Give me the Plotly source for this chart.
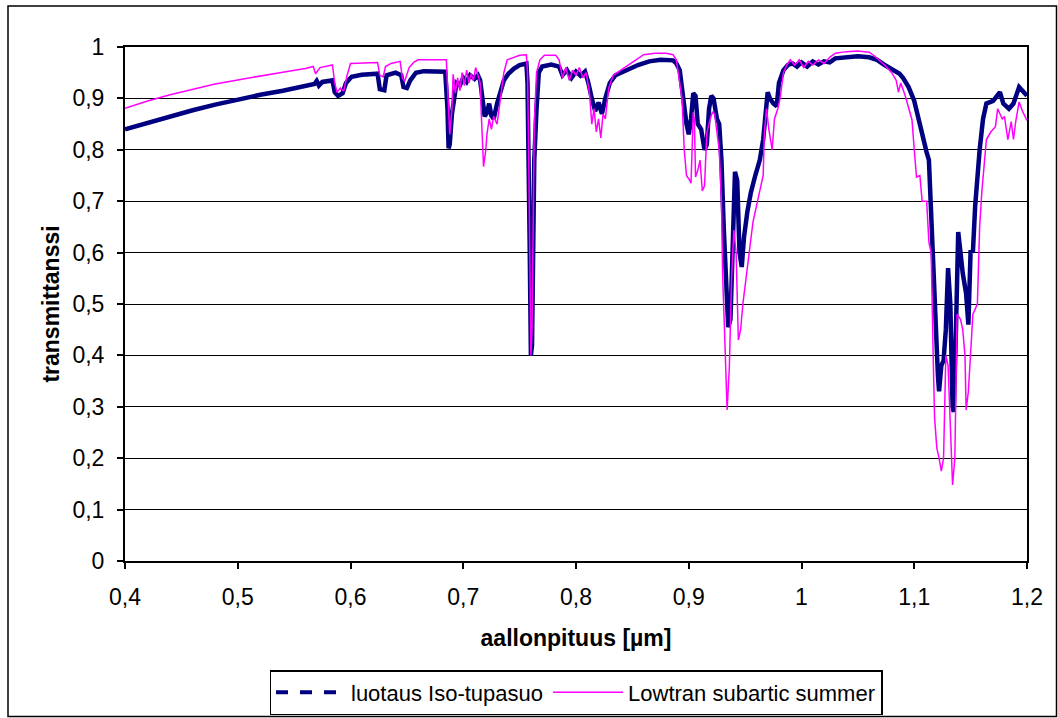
import plotly.graph_objects as go

# ---- data ----
luotaus_wl = [0.400,0.420,0.440,0.460,0.480,0.500,0.520,0.540,0.560,0.568,0.570,0.572,0.575,0.584,0.586,0.589,0.593,0.596,0.601,0.610,0.624,0.626,0.630,0.632,0.640,0.645,0.647,0.650,0.653,0.658,0.665,0.684,0.686,0.687,0.688,0.690,0.692,0.694,0.697,0.700,0.703,0.706,0.710,0.713,0.715,0.717,0.719,0.721,0.723,0.725,0.727,0.730,0.733,0.736,0.740,0.745,0.750,0.756,0.757,0.758,0.759,0.760,0.761,0.762,0.763,0.765,0.767,0.770,0.778,0.785,0.788,0.792,0.796,0.800,0.804,0.808,0.811,0.814,0.817,0.820,0.823,0.826,0.830,0.835,0.845,0.855,0.865,0.875,0.886,0.889,0.892,0.894,0.896,0.898,0.900,0.902,0.904,0.906,0.908,0.911,0.914,0.916,0.918,0.920,0.922,0.925,0.927,0.929,0.931,0.933,0.935,0.937,0.939,0.941,0.943,0.945,0.947,0.949,0.952,0.955,0.959,0.963,0.966,0.968,0.970,0.972,0.975,0.978,0.980,0.984,0.988,0.992,0.996,1.000,1.005,1.010,1.015,1.020,1.025,1.030,1.040,1.050,1.060,1.067,1.073,1.078,1.083,1.087,1.090,1.095,1.100,1.104,1.108,1.111,1.113,1.114,1.1165,1.119,1.121,1.122,1.124,1.126,1.128,1.130,1.132,1.134,1.135,1.137,1.139,1.141,1.143,1.146,1.148,1.150,1.152,1.154,1.156,1.158,1.161,1.164,1.170,1.174,1.176,1.179,1.184,1.188,1.191,1.193,1.196,1.200]
luotaus_t = [0.840,0.853,0.866,0.877,0.888,0.898,0.907,0.915,0.923,0.928,0.934,0.925,0.932,0.935,0.912,0.905,0.910,0.930,0.942,0.946,0.948,0.918,0.916,0.945,0.950,0.945,0.922,0.920,0.935,0.950,0.953,0.952,0.880,0.803,0.810,0.870,0.900,0.930,0.925,0.940,0.932,0.945,0.938,0.945,0.935,0.900,0.865,0.872,0.890,0.866,0.860,0.890,0.910,0.935,0.948,0.958,0.965,0.968,0.930,0.800,0.600,0.400,0.420,0.600,0.780,0.880,0.950,0.962,0.966,0.962,0.945,0.955,0.940,0.952,0.944,0.952,0.930,0.900,0.875,0.892,0.870,0.900,0.930,0.945,0.955,0.965,0.972,0.975,0.974,0.968,0.955,0.920,0.880,0.850,0.830,0.860,0.910,0.905,0.850,0.840,0.800,0.810,0.880,0.905,0.900,0.860,0.850,0.780,0.650,0.550,0.455,0.470,0.620,0.757,0.740,0.600,0.572,0.630,0.680,0.716,0.750,0.780,0.820,0.880,0.912,0.900,0.890,0.885,0.930,0.955,0.965,0.968,0.962,0.970,0.962,0.972,0.966,0.972,0.970,0.978,0.981,0.982,0.980,0.975,0.966,0.960,0.952,0.948,0.940,0.922,0.895,0.855,0.820,0.795,0.780,0.720,0.590,0.450,0.360,0.330,0.380,0.390,0.450,0.570,0.500,0.300,0.290,0.450,0.640,0.600,0.560,0.520,0.460,0.605,0.600,0.690,0.750,0.800,0.860,0.890,0.895,0.905,0.912,0.890,0.880,0.890,0.912,0.922,0.915,0.905]

lowtran_wl = [0.400,0.420,0.440,0.460,0.480,0.500,0.520,0.540,0.560,0.567,0.569,0.571,0.573,0.584,0.586,0.588,0.591,0.594,0.597,0.600,0.624,0.626,0.629,0.631,0.636,0.644,0.646,0.648,0.650,0.652,0.656,0.660,0.685,0.686,0.688,0.690,0.691,0.693,0.695,0.697,0.699,0.701,0.703,0.705,0.707,0.709,0.711,0.713,0.715,0.716,0.718,0.720,0.721,0.723,0.725,0.727,0.730,0.733,0.736,0.739,0.745,0.750,0.756,0.757,0.758,0.759,0.760,0.761,0.762,0.763,0.765,0.768,0.772,0.782,0.785,0.788,0.791,0.794,0.797,0.800,0.803,0.806,0.809,0.812,0.814,0.816,0.818,0.820,0.822,0.824,0.826,0.829,0.833,0.840,0.850,0.860,0.870,0.880,0.886,0.889,0.892,0.894,0.896,0.898,0.901,0.902,0.904,0.905,0.906,0.908,0.910,0.912,0.914,0.916,0.919,0.921,0.923,0.925,0.927,0.929,0.930,0.932,0.934,0.936,0.938,0.940,0.942,0.944,0.946,0.948,0.951,0.954,0.957,0.961,0.964,0.966,0.967,0.969,0.971,0.974,0.976,0.979,0.981,0.984,0.987,0.990,0.994,0.998,1.002,1.006,1.010,1.015,1.020,1.025,1.030,1.040,1.050,1.060,1.065,1.070,1.075,1.080,1.084,1.086,1.088,1.092,1.096,1.098,1.100,1.102,1.105,1.107,1.111,1.113,1.115,1.116,1.117,1.118,1.120,1.122,1.124,1.126,1.128,1.130,1.132,1.134,1.136,1.138,1.141,1.143,1.145,1.146,1.148,1.150,1.152,1.156,1.158,1.160,1.162,1.164,1.168,1.172,1.174,1.178,1.180,1.183,1.186,1.188,1.190,1.193,1.196,1.200]
lowtran_t = [0.881,0.895,0.907,0.918,0.928,0.936,0.944,0.951,0.958,0.962,0.948,0.953,0.960,0.965,0.930,0.912,0.920,0.914,0.945,0.968,0.970,0.945,0.942,0.962,0.968,0.972,0.940,0.933,0.945,0.960,0.970,0.975,0.975,0.930,0.830,0.880,0.947,0.910,0.940,0.915,0.950,0.925,0.955,0.930,0.948,0.935,0.960,0.945,0.930,0.870,0.767,0.800,0.830,0.860,0.840,0.865,0.850,0.900,0.950,0.975,0.980,0.984,0.985,0.950,0.800,0.550,0.400,0.450,0.650,0.850,0.950,0.975,0.984,0.984,0.975,0.940,0.960,0.935,0.955,0.945,0.960,0.940,0.950,0.910,0.850,0.880,0.835,0.860,0.823,0.870,0.860,0.920,0.945,0.955,0.970,0.985,0.988,0.988,0.985,0.975,0.930,0.900,0.800,0.750,0.740,0.735,0.873,0.860,0.747,0.760,0.780,0.720,0.730,0.832,0.860,0.873,0.870,0.830,0.800,0.700,0.560,0.430,0.294,0.377,0.550,0.644,0.600,0.430,0.450,0.500,0.550,0.600,0.660,0.700,0.730,0.750,0.830,0.880,0.840,0.800,0.860,0.880,0.900,0.950,0.965,0.975,0.965,0.975,0.960,0.972,0.965,0.975,0.968,0.980,0.988,0.991,0.992,0.990,0.982,0.972,0.962,0.950,0.935,0.912,0.930,0.905,0.875,0.858,0.800,0.747,0.750,0.700,0.700,0.620,0.600,0.450,0.377,0.280,0.220,0.200,0.175,0.200,0.400,0.380,0.250,0.148,0.200,0.480,0.470,0.450,0.400,0.294,0.330,0.400,0.480,0.500,0.650,0.720,0.780,0.820,0.835,0.845,0.880,0.860,0.865,0.820,0.855,0.820,0.855,0.893,0.875,0.857]

series_names = ["luotaus Iso-tupasuo", "Lowtran subartic summer"]
x_title = "aallonpituus [µm]"
y_title = "transmittanssi"

BLUE = "#000080"
PINK = "#FF00FF"
FONT = "Liberation Sans, Arial, sans-serif"
FS = 23

fig = go.Figure()
fig.add_trace(go.Scatter(x=luotaus_wl, y=luotaus_t, mode="lines", name=series_names[0],
                         line=dict(color=BLUE, width=4.5), showlegend=False))
fig.add_trace(go.Scatter(x=lowtran_wl, y=lowtran_t, mode="lines", name=series_names[1],
                         line=dict(color=PINK, width=1.5), showlegend=False))
# legend entries (dashed style for the measured series, as in the reference legend)
fig.add_trace(go.Scatter(x=[None], y=[None], mode="lines", name=series_names[0],
                         line=dict(color=BLUE, width=4, dash="dash")))
fig.add_trace(go.Scatter(x=[None], y=[None], mode="lines", name=series_names[1],
                         line=dict(color=PINK, width=1.5)))

L, R, T, B = 125, 31, 47, 157
W, H = 1058, 718
pw, ph = W - L - R, H - T - B

def px2paper_x(px):
    return (px - L) / pw

def px2paper_y(py):
    return (H - B - py) / ph

fig.update_layout(
    width=W, height=H,
    margin=dict(l=L, r=R, t=T, b=B, autoexpand=False),
    paper_bgcolor="white", plot_bgcolor="white",
    separators=", ",
    font=dict(family=FONT, size=FS, color="black"),
    legend=dict(orientation="h", x=0.5, xanchor="center",
                y=px2paper_y(670), yanchor="top",
                bordercolor="black", borderwidth=1.5, bgcolor="white",
                font=dict(family=FONT, size=22, color="black"),
                itemwidth=70, tracegroupgap=0),
    xaxis=dict(range=[0.4, 1.2], dtick=0.1, tick0=0.4, showgrid=False,
               showline=True, linecolor="black", linewidth=2, mirror=True,
               ticks="outside", ticklen=6, tickwidth=1.5, tickcolor="black",
               ticklabelstandoff=8, zeroline=False,
               tickfont=dict(family=FONT, size=FS),
               title=dict(text="<b>" + x_title + "</b>", standoff=21,
                          font=dict(family=FONT, size=FS))),
    yaxis=dict(range=[0, 1], dtick=0.1, tick0=0, showgrid=True,
               gridcolor="black", gridwidth=1,
               showline=True, linecolor="black", linewidth=2, mirror=True,
               ticks="outside", ticklen=6, tickwidth=1.5, tickcolor="black",
               ticklabelstandoff=8, zeroline=False,
               tickfont=dict(family=FONT, size=FS),
               title=dict(text="<b>" + y_title + "</b>", standoff=6,
                          font=dict(family=FONT, size=FS))),
    shapes=[dict(type="rect", xref="paper", yref="paper",
                 x0=px2paper_x(8), x1=px2paper_x(1056.5),
                 y0=px2paper_y(716.5), y1=px2paper_y(6),
                 line=dict(color="black", width=1.5), fillcolor="rgba(0,0,0,0)",
                 layer="below")],
)

fig.write_html("out.html")
